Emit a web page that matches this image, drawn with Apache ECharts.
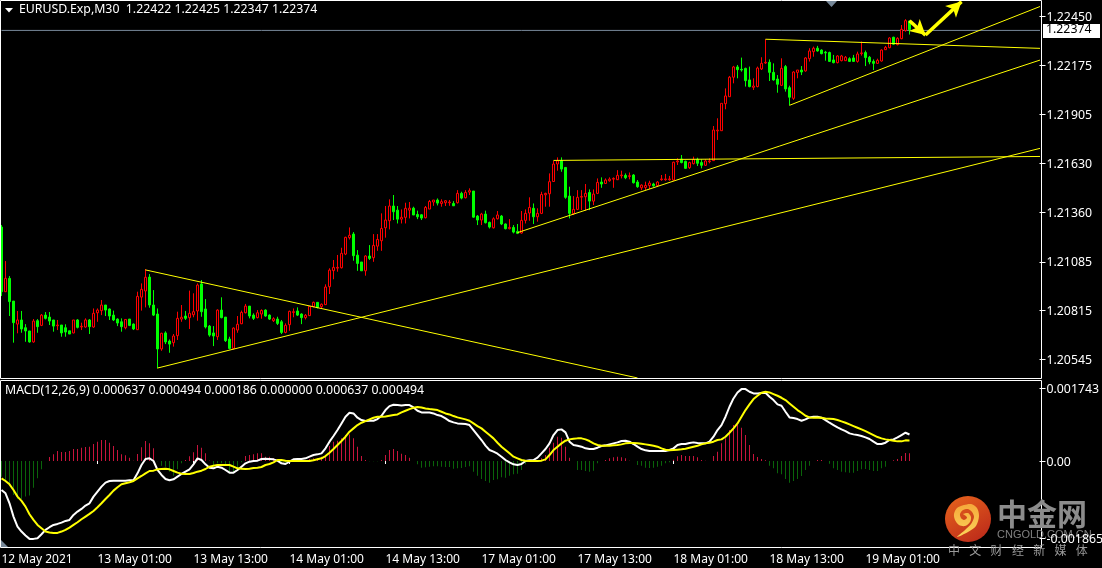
<!DOCTYPE html>
<html><head><meta charset="utf-8">
<style>html,body{margin:0;padding:0;background:#000}#c{width:1102px;height:568px}</style>
<script src="https://cdn.jsdelivr.net/npm/echarts@6/dist/echarts.min.js"></script>
</head><body><div id="c"></div>
<script>
// Prices are stored as the digits after "1." (21278 means 1.21278)
const opens=[21278,20919,20993,20867,20739,20762,20719,20701,20640,20758,
20732,20789,20778,20762,20730,20734,20719,20702,20690,20762,
20723,20723,20762,20723,20802,20814,20845,20823,20789,20767,
20752,20719,20767,20739,20708,20889,20923,21000,20845,20795,
20601,20690,20645,20636,20675,20767,20784,20775,20791,20812,
20962,20823,20728,20690,20669,20817,20778,20656,20604,20706,
20741,20802,20839,20789,20775,20795,20817,20789,20758,20767,
20752,20693,20736,20804,20812,20795,20775,20786,20836,20860,
20836,20847,20947,21036,21050,21052,21128,21219,21239,21122,
21084,21035,21117,21108,21172,21202,21274,21313,21395,21372,
21322,21332,21372,21383,21348,21346,21330,21378,21417,21428,
21409,21413,21413,21409,21413,21465,21441,21472,21478,21339,
21317,21350,21304,21274,21324,21339,21295,21269,21276,21254,
21245,21315,21356,21382,21335,21354,21457,21463,21531,21628,
21646,21609,21450,21352,21376,21444,21446,21470,21422,21465,
21528,21520,21535,21544,21541,21563,21565,21559,21567,21528,
21496,21498,21509,21517,21509,21541,21541,21541,21539,21640,
21656,21643,21608,21630,21654,21636,21621,21641,21647,21812,
21813,21963,22002,22110,22167,22154,22159,22095,22054,22058,
22156,22189,22193,22137,22100,22065,22169,22052,21993,22137,
22150,22145,22213,22252,22271,22261,22249,22247,22206,22191,
22202,22202,22213,22217,22198,22241,22247,22221,22198,22187,
22200,22263,22274,22332,22291,22324,22369,22422];
const highs=[21289,21089,21006,20867,20812,20812,20739,20701,20767,20767,
20795,20806,20806,20762,20762,20734,20738,20702,20762,20767,
20747,20771,20767,20826,20826,20873,20845,20826,20814,20771,
20771,20767,20767,20743,20919,20965,21045,21017,20928,20826,
20691,20699,20654,20684,20808,20845,20812,20925,20910,20965,
20984,20878,20734,20728,20821,20888,20778,20669,20721,20784,
20814,20851,20839,20799,20817,20821,20821,20793,20777,20780,
20762,20743,20814,20826,20832,20799,20795,20839,20864,20860,
20854,20960,21049,21095,21123,21163,21224,21276,21250,21150,
21084,21122,21178,21239,21239,21354,21395,21432,21456,21395,
21376,21413,21417,21391,21369,21350,21395,21428,21428,21437,
21432,21428,21428,21422,21483,21474,21483,21493,21478,21345,
21357,21369,21308,21332,21367,21345,21298,21322,21289,21295,
21367,21376,21443,21409,21382,21474,21469,21576,21646,21665,
21665,21609,21502,21450,21483,21483,21517,21487,21487,21548,
21554,21548,21554,21554,21594,21591,21576,21581,21572,21539,
21515,21530,21535,21524,21533,21567,21573,21562,21641,21660,
21678,21647,21641,21669,21663,21654,21654,21660,21839,21882,
21965,22048,22117,22173,22178,22219,22163,22169,22104,22169,
22221,22321,22209,22187,22122,22215,22178,22063,22143,22150,
22172,22221,22271,22280,22284,22265,22256,22252,22234,22232,
22234,22228,22221,22234,22252,22308,22258,22228,22209,22213,
22265,22284,22332,22335,22332,22400,22432,22425];
const lows=[20895,20919,20784,20636,20688,20691,20641,20636,20636,20691,
20728,20765,20734,20697,20706,20669,20669,20684,20688,20715,
20706,20719,20684,20719,20752,20789,20784,20762,20756,20728,
20697,20710,20728,20706,20708,20814,20832,20830,20784,20493,
20591,20628,20580,20614,20651,20752,20762,20712,20777,20758,
20780,20715,20669,20617,20651,20771,20640,20599,20599,20691,
20739,20799,20771,20762,20771,20769,20780,20762,20751,20734,
20684,20688,20702,20777,20784,20739,20765,20784,20832,20826,
20826,20845,20906,20988,21030,21048,21122,21209,21091,21035,
21035,21008,21095,21085,21146,21146,21219,21265,21317,21298,
21298,21298,21326,21345,21322,21317,21326,21378,21396,21398,
21391,21395,21396,21395,21409,21432,21437,21456,21330,21289,
21289,21298,21270,21270,21320,21289,21265,21265,21243,21239,
21241,21298,21313,21295,21308,21350,21391,21391,21530,21591,
21585,21435,21326,21345,21372,21372,21369,21372,21400,21461,
21496,21517,21530,21496,21539,21548,21544,21543,21520,21496,
21483,21483,21489,21502,21502,21535,21535,21535,21535,21623,
21632,21601,21601,21626,21617,21604,21617,21632,21645,21762,
21812,21932,22002,22076,22104,22141,22058,22054,22039,22054,
22150,22184,22089,22091,22024,22061,22030,21954,21984,22104,
22122,22141,22197,22224,22252,22237,22202,22195,22187,22187,
22198,22200,22195,22195,22191,22230,22172,22182,22150,22184,
22197,22261,22271,22289,22287,22321,22363,22347];
const closes=[20919,20993,20864,20747,20762,20712,20701,20640,20756,20725,
20789,20771,20756,20728,20734,20690,20695,20684,20762,20721,
20727,20762,20725,20799,20817,20845,20817,20784,20762,20745,
20725,20765,20732,20712,20893,20932,20999,20845,20789,20601,
20688,20640,20628,20673,20771,20777,20771,20799,20808,20956,
20808,20723,20678,20673,20817,20775,20647,20604,20717,20738,
20804,20839,20784,20771,20802,20815,20784,20767,20769,20743,
20693,20732,20810,20808,20789,20775,20788,20838,20860,20832,
20849,20945,21039,21054,21054,21132,21221,21232,21119,21076,
21035,21117,21104,21176,21209,21270,21317,21395,21363,21322,
21332,21382,21383,21345,21335,21328,21387,21420,21428,21411,
21419,21424,21417,21396,21465,21439,21470,21480,21333,21317,
21350,21302,21278,21324,21345,21295,21269,21276,21250,21243,
21315,21354,21387,21335,21354,21459,21465,21530,21628,21646,
21600,21443,21354,21376,21443,21448,21465,21422,21461,21526,
21517,21539,21544,21548,21565,21567,21552,21563,21524,21502,
21511,21509,21522,21507,21528,21545,21545,21545,21638,21645,
21636,21604,21636,21654,21632,21621,21645,21645,21817,21816,
21965,22006,22110,22167,22152,22150,22091,22058,22061,22161,
22187,22193,22137,22095,22071,22159,22045,21999,22139,22150,
22139,22217,22256,22271,22256,22241,22245,22198,22191,22228,
22228,22221,22198,22198,22239,22245,22219,22195,22187,22204,
22261,22276,22328,22293,22326,22376,22424,22374];
// MACD values in millionths
const macdMain=[-696,-776,-1016,-1336,-1576,-1696,-1792,-1872,-1872,-1856,
-1760,-1656,-1592,-1536,-1512,-1480,-1440,-1416,-1296,-1216,
-1152,-1072,-1016,-856,-736,-616,-520,-480,-472,-472,
-472,-472,-464,-464,-296,-96,48,64,0,-216,
-336,-432,-464,-440,-376,-312,-256,-200,-80,64,
24,-80,-160,-176,-136,-160,-216,-280,-280,-216,
-136,-56,-16,0,8,48,56,48,40,8,
-56,-72,-16,40,48,48,64,104,144,160,
184,304,464,600,744,904,1064,1160,1144,1040,
984,960,968,968,1008,1088,1224,1320,1352,1344,
1336,1344,1344,1288,1208,1168,1168,1168,1144,1104,
1080,1024,960,928,904,896,888,864,744,624,
504,368,264,224,176,104,24,-32,-80,-96,
-72,0,16,24,80,184,288,424,624,744,
760,688,464,384,368,344,304,288,288,320,
360,376,400,424,448,480,488,464,408,344,
288,256,240,240,240,240,240,264,304,384,
408,408,432,448,432,424,424,464,584,744,
864,1064,1304,1504,1648,1728,1728,1664,1624,1624,
1632,1640,1544,1464,1360,1328,1184,1048,1032,1008,
968,1000,1048,1064,1064,1040,984,920,864,808,
760,720,664,640,624,600,568,528,464,408,
408,440,504,520,568,624,680,637];
const macdSignal=[-416,-480,-560,-696,-856,-960,-1096,-1280,-1416,-1536,
-1616,-1696,-1720,-1728,-1728,-1696,-1656,-1600,-1536,-1472,
-1400,-1336,-1272,-1200,-1112,-1016,-912,-816,-712,-632,
-560,-536,-512,-480,-416,-360,-296,-240,-232,-200,
-192,-184,-200,-240,-280,-304,-312,-312,-288,-256,
-232,-192,-136,-112,-96,-96,-96,-96,-136,-176,
-184,-192,-184,-168,-160,-144,-96,-72,-32,24,
24,8,0,0,0,0,0,0,16,40,
64,120,200,288,384,480,584,704,784,864,
920,960,1000,1040,1064,1064,1072,1088,1104,1120,
1168,1208,1248,1280,1296,1288,1264,1248,1240,1224,
1184,1144,1120,1080,1048,1024,1000,968,904,840,
784,704,624,544,440,344,264,184,104,64,
24,8,0,0,0,8,40,144,264,344,
424,488,520,536,544,544,520,480,424,384,
368,368,368,376,384,400,424,432,432,424,
416,400,384,368,344,304,272,256,264,272,
280,296,320,344,368,400,424,440,464,504,
520,584,680,784,904,1064,1224,1360,1488,1568,
1640,1664,1648,1608,1568,1520,1464,1384,1304,1224,
1160,1088,1048,1040,1048,1040,1024,1016,1008,984,
952,920,880,840,800,760,720,672,624,576,
544,520,504,488,472,472,496,494];
const macdHist=[-376,-480,-576,-816,-912,-912,-856,-832,-640,-416,
-200,0,96,160,240,216,216,240,288,288,
320,336,344,408,464,504,504,440,360,264,
160,136,80,8,168,328,480,424,304,-8,
-112,-136,-256,-352,-200,-56,24,112,208,384,
320,184,8,-96,-56,-56,-112,-256,-272,-176,
-32,120,144,160,184,184,104,104,64,8,
-32,-56,-32,8,16,16,24,48,64,64,
104,144,360,464,488,544,624,640,544,344,
120,24,-8,-8,-8,24,144,264,288,240,
176,144,80,0,-80,-160,-152,-136,-128,-128,
-136,-144,-144,-184,-176,-168,-144,-128,-256,-352,
-432,-480,-520,-456,-440,-392,-400,-352,-320,-304,
-216,-80,0,0,24,64,144,320,440,584,
560,344,80,0,-216,-216,-240,-256,-232,-56,
0,24,64,88,104,88,64,8,0,-96,
-112,-160,-168,-160,-136,-112,-56,-32,32,112,
144,120,120,120,88,24,8,0,120,224,
424,544,744,864,880,800,624,384,168,96,
48,16,-112,-176,-296,-320,-432,-520,-480,-432,
-360,-216,-112,0,24,24,0,-64,-176,-216,
-256,-272,-280,-280,-240,-200,-192,-216,-240,-240,
-176,-136,0,16,48,120,192,186];
const barSlots=260;
const xTickLabels=['12 May 2021','13 May 01:00','13 May 13:00','14 May 01:00','14 May 13:00','17 May 01:00','17 May 13:00','18 May 01:00','18 May 13:00','19 May 01:00'];
const xTickEvery=24;
const priceTicks=[1.22450,1.22175,1.21905,1.21630,1.21360,1.21085,1.20815,1.20545];
const macdTicks=[0.001743,0,-0.001865];
const bid=22370;
// Trend lines: [bar index, price digits] at both ends
const trendA=[[36,21040],[159,20440]];
const trendB=[[39,20495],[260,21717]];
const trendC=[[129,21247],[260,22208]];
const trendD=[[197,21954],[260,22506]];
const trendE=[[191,22321],[260,22270]];
const trendF=[[138,21648],[260,21670]];
const bidLine=[[0,bid],[260,bid]];
const arrowDown=[[227,22424],[231,22344]];
const arrowUp=[[231,22344],[240,22530]];
const footerChars=['中','文','财','经','新','媒','体'];

const P=v=>1+v/1e5;
const categories=Array.from({length:barSlots},(_,i)=>(i%xTickEvery===0&&i/xTickEvery<xTickLabels.length)?xTickLabels[i/xTickEvery]:'');
const tickFn=i=>i%xTickEvery===0&&i/xTickEvery<xTickLabels.length;
const FONT='Noto Sans',FS=12.3;
const candle=opens.map((o,i)=>[P(o),P(closes[i]),P(lows[i]),P(highs[i])]);
const trend=(d,color,z)=>({type:'line',xAxisIndex:0,yAxisIndex:0,symbol:'none',animation:false,silent:true,clip:false,
  lineStyle:{color:color||'#ffff00',width:1},data:d.map(p=>[p[0],P(p[1])]),z:z||5});
const YT=1,YB=378,MT=381,MB=547;
const chart=echarts.init(document.getElementById('c'),null,{renderer:'canvas'});
const txt=(x,y,t,o)=>({type:'text',left:x,top:y,z:20,silent:true,style:Object.assign({text:t,fill:'#fff',font:FS+'px "'+FONT+'"'},o||{})});
const frame=(y1,y2)=>({type:'rect',z:15,silent:true,shape:{x:0.5,y:y1,width:1041,height:y2-y1},style:{fill:'transparent',stroke:'#fff',lineWidth:1}});
chart.setOption({
  animation:false,backgroundColor:'#000',
  grid:[{left:-0.5,top:YT,width:1040,height:YB-YT,outerBoundsMode:'none'},{left:-0.5,top:MT,width:1040,height:MB-MT,outerBoundsMode:'none'}],
  xAxis:[
    {type:'category',gridIndex:0,data:categories,boundaryGap:true,axisLine:{show:false},axisTick:{show:false},axisLabel:{show:false},splitLine:{show:false}},
    {type:'category',gridIndex:1,data:categories,boundaryGap:true,axisLine:{show:false},
     axisTick:{show:true,alignWithLabel:true,interval:tickFn,length:3,lineStyle:{color:'#fff'}},
     axisLabel:{show:true,interval:tickFn,color:'#fff',fontFamily:FONT,fontSize:12,align:'left',margin:7},splitLine:{show:false}}
  ],
  yAxis:[
    {type:'value',gridIndex:0,position:'right',min:1.204398,max:1.225333,scale:true,
     axisLine:{show:false},axisTick:{show:true,length:6,lineStyle:{color:'#fff'},customValues:priceTicks},
     axisLabel:{show:true,customValues:priceTicks,color:'#fff',fontFamily:FONT,fontSize:FS,margin:7,verticalAlign:'top',lineHeight:2,formatter:v=>v.toFixed(5),showMinLabel:true,showMaxLabel:true},splitLine:{show:false}},
    {type:'value',gridIndex:1,position:'right',min:-0.002067,max:0.001923,z:40,
     axisLine:{show:false},axisTick:{show:true,length:6,lineStyle:{color:'#fff'},customValues:macdTicks},
     axisLabel:{show:true,customValues:macdTicks,color:'#fff',fontFamily:FONT,fontSize:FS,margin:7,verticalAlign:'top',lineHeight:2,formatter:v=>v===0?'0.00':v.toFixed(6)},splitLine:{show:false}}
  ],
  series:[
    trend(bidLine,'#778899',2),
    {type:'candlestick',xAxisIndex:0,yAxisIndex:0,barWidth:2,data:candle,animation:false,silent:true,z:3,
     itemStyle:{color:'#000',color0:'#00ff00',borderColor:'#ff0000',borderColor0:'#00ff00',borderWidth:1}},
    trend(trendA),trend(trendB),trend(trendC),trend(trendD),trend(trendE),trend(trendF),
    {type:'line',xAxisIndex:0,yAxisIndex:0,data:[],silent:true,z:6,
     markLine:{silent:true,animation:false,symbol:['none','arrow'],symbolSize:[12,15],label:{show:false},
       lineStyle:{color:'#ffff00',width:3.5,type:'solid'},
       data:[[{coord:[arrowDown[0][0],P(arrowDown[0][1])]},{coord:[arrowDown[1][0],P(arrowDown[1][1])]}],
             [{coord:[arrowUp[0][0],P(arrowUp[0][1])]},{coord:[arrowUp[1][0],P(arrowUp[1][1])]}]]}},
    {type:'bar',xAxisIndex:1,yAxisIndex:1,barWidth:1,silent:true,animation:false,z:2,
     data:macdHist.map(v=>({value:v/1e6,itemStyle:{color:v>=0?'#c8143c':'#0a640a'}}))},
    {type:'line',xAxisIndex:1,yAxisIndex:1,symbol:'none',silent:true,animation:false,z:3,lineStyle:{color:'#ffffff',width:2},data:macdMain.map(v=>v/1e6)},
    {type:'line',xAxisIndex:1,yAxisIndex:1,symbol:'none',silent:true,animation:false,z:4,lineStyle:{color:'#ffff00',width:2},data:macdSignal.map(v=>v/1e6)}
  ],
  graphic:[
    frame(0.5,378.5),frame(380.5,547.5),
    {type:'polygon',z:16,silent:true,shape:{points:[[5,8],[13,8],[9,12.5]]},style:{fill:'#fff'}},
    txt(19,3,'EURUSD.Exp,M30  1.22422 1.22425 1.22347 1.22374'),
    txt(5,384,'MACD(12,26,9) 0.000637 0.000494 0.000186 0.000000 0.000637 0.000494'),
    {type:'polygon',z:16,silent:true,shape:{points:[[826,1],[837,1],[831.5,7]]},style:{fill:'#778899'}},
    {type:'polygon',z:16,silent:true,shape:{points:[[1,540],[8,547],[1,547]]},style:{fill:'#778899'}},
    {type:'rect',z:17,silent:true,shape:{x:1043,y:24,width:57,height:14},style:{fill:'#fff'}},
    txt(1046,23,'1.22374',{fill:'#000'}),
    // watermark
    {type:'circle',z:30,silent:true,shape:{cx:968,cy:519,r:23},style:{fill:new echarts.graphic.LinearGradient(0.2,0,0.8,1,[{offset:0,color:'#e4601c'},{offset:1,color:'#bc2a1a'}])}},
    {type:'polygon',z:31,silent:true,shape:{smooth:0.3,points:[[957,537],[968,532],[976,526],[979,516],[977,508],[971,504],[964,505],[957,508],[954,514],[955,520],[959,525],[965,526],[970,522],[971,517],[968,513],[963,514],[966,516],[967,518],[964,520],[961,518],[960,514],[963,510],[968,509],[972,512],[974,517],[971,524],[965,530]]},style:{fill:new echarts.graphic.LinearGradient(0,0,0,1,[{offset:0,color:'#f5a83a'},{offset:1,color:'#fbd45a'}])}},
    txt(997,499,'中金网',{fill:'#8c8c8c',font:'bold 30px "Noto Sans CJK SC"'}),
    txt(997,529,'CNGOLD.COM.CN',{fill:'#808080',font:'11px "Liberation Sans"'}),
    ...footerChars.map((c,i)=>txt(948+i*21.3,544,c,{fill:'#9a9a9a',font:'12px "Noto Sans CJK SC"'}))
  ]
});
</script></body></html>
